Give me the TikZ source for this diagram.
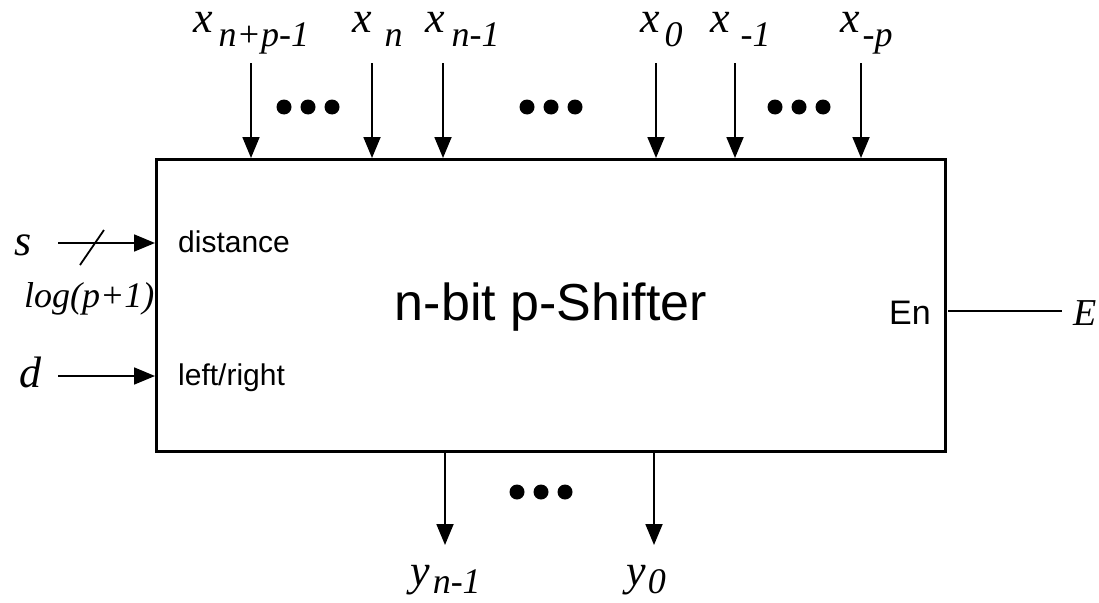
\documentclass[tikz,border=0pt]{standalone}
\usepackage{fontspec}
\setmainfont{Liberation Serif}
\setsansfont{Liberation Sans}
\usetikzlibrary{arrows.meta}
\newcommand{\lbl}[4]{\textit{#1}\hspace{#3}\raisebox{#4}{\fontsize{36}{40}\selectfont\textit{#2}}}
\begin{document}
\begin{tikzpicture}[x=1pt,y=-1pt,
  sig/.style={line width=1.8pt,-{Triangle[length=21pt,width=17pt]}},
  lab/.style={inner sep=0pt,anchor=base west,font=\fontsize{44}{48}\selectfont},
  lab2/.style={inner sep=0pt,anchor=base west,font=\fontsize{36}{40}\selectfont},
  dotc/.style={fill=black,draw=none},
  sf/.style={inner sep=0pt,font=\sffamily\fontsize{#1}{#1}\selectfont}]
\useasboundingbox (0,0) rectangle (1099,602);
\node[draw,line width=2.6pt,minimum width=789pt,minimum height=292pt,anchor=north west,inner sep=0pt] (box) at (155,158) {};
% top inputs
\foreach \nm/\xx in {a/251,b/372,c/443,e/656,f/735,g/861}{
  \coordinate (t\nm) at (\xx,63);
  \coordinate (b\nm) at (\xx,158);
  \draw[sig] (t\nm) -- (b\nm);
}
\node[lab] (la) at (193,33) {\lbl{x}{n+p-1}{6pt}{-14pt}};
\node[lab] (lb) at (352,33) {\lbl{x}{n}{13pt}{-14pt}};
\node[lab] (lc) at (425,33) {\lbl{x}{n-1}{7pt}{-14pt}};
\node[lab] (le) at (640,33) {\lbl{x}{0}{5pt}{-14pt}};
\node[lab] (lf) at (710,33) {\lbl{x}{-1}{11pt}{-14pt}};
\node[lab] (lg) at (840,33) {\lbl{x}{-p}{3pt}{-14pt}};
% dots
\foreach \cx/\cy in {284/107,308/107,332/107,527/107,551/107,575/107,775/107,799/107,823/107,517/492,541/492,565/492}{
  \fill[dotc] (\cx,\cy) circle (7.5pt);
}
% left inputs
\coordinate (s0) at (58,243);
\coordinate (s1) at (155,243);
\draw[sig] (s0) -- (s1);
\coordinate (sl0) at (80,265);
\coordinate (sl1) at (104,230);
\draw[line width=1.8pt] (sl0) -- (sl1);
\coordinate (d0) at (58,376);
\coordinate (d1) at (155,376);
\draw[sig] (d0) -- (d1);
\node[lab] (ls) at (14,255) {\textit{s}};
\node[lab] (ld) at (19,387) {\textit{d}};
\node[lab2] (llog) at (24,307) {\textit{log(p+1)}};
\node[sf=30,anchor=base west] (dist) at (178,252) {distance};
\node[sf=30,anchor=base west] (lr) at (178,385) {left/right};
\node[sf=52,anchor=base] (title) at (551,320) {n-bit p-Shifter};
\node[sf=34,anchor=base east] (en) at (931,324) {En};
% enable line
\coordinate (e0) at (948,311);
\coordinate (e1) at (1062,311);
\draw[line width=1.5pt] (e0) -- (e1);
\node[lab2,font=\fontsize{38}{40}\selectfont] (lE) at (1073,325) {\textit{E}};
% outputs
\foreach \nm/\xx in {p/445,q/654}{
  \coordinate (o\nm) at (\xx,450);
  \coordinate (oe\nm) at (\xx,545);
  \draw[sig] (o\nm) -- (oe\nm);
}
\node[lab] (ly1) at (410,585) {\lbl{y}{n-1}{3pt}{-8pt}};
\node[lab] (ly0) at (626,585) {\lbl{y}{0}{2pt}{-8pt}};
\end{tikzpicture}
\end{document}
